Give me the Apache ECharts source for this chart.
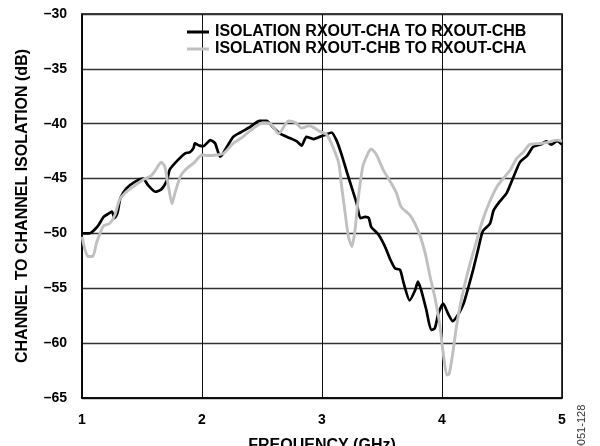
<!DOCTYPE html>
<html><head><meta charset="utf-8">
<script src="https://cdn.jsdelivr.net/npm/echarts@6/dist/echarts.min.js"></script>
<style>html,body{margin:0;padding:0;background:#fff}#c{width:600px;height:446px}</style>
</head><body><div id="c"></div>
<script>
const seriesNames = ['ISOLATION RXOUT-CHA TO RXOUT-CHB', 'ISOLATION RXOUT-CHB TO RXOUT-CHA'];
const xTicks = [1, 2, 3, 4, 5];
const yTicks = [-65, -60, -55, -50, -45, -40, -35, -30];

const freqA = [1.00,1.05,1.08,1.11,1.14,1.18,1.22,1.25,1.27,1.29,1.30,1.32,1.37,1.44,1.51,1.55,1.61,1.66,1.71,1.73,1.80,1.86,1.90,1.93,1.94,1.98,2.01,2.07,2.11,2.15,2.17,2.26,2.32,2.40,2.48,2.54,2.59,2.65,2.73,2.79,2.83,2.87,2.93,2.98,3.03,3.08,3.12,3.16,3.21,3.25,3.29,3.32,3.36,3.39,3.41,3.47,3.525,3.57,3.61,3.65,3.68,3.73,3.775,3.80,3.83,3.87,3.91,3.94,3.97,4.01,4.05,4.09,4.14,4.18,4.22,4.26,4.30,4.34,4.40,4.43,4.48,4.54,4.59,4.65,4.71,4.76,4.82,4.87,4.91,4.96,5.00];
const dbA = [-50.0,-50.0,-49.9,-49.6,-49.2,-48.5,-48.2,-48.0,-48.6,-48.3,-47.9,-46.8,-45.9,-45.3,-45.0,-45.6,-46.2,-46.0,-45.1,-44.2,-43.3,-42.7,-42.6,-42.2,-41.8,-42.0,-42.05,-41.5,-41.8,-43.0,-42.8,-41.2,-40.8,-40.3,-39.75,-39.75,-40.3,-40.9,-41.3,-41.6,-42.0,-41.2,-41.4,-41.2,-41.0,-40.8,-41.5,-42.7,-44.5,-45.9,-47.3,-48.6,-48.5,-48.6,-49.4,-50.1,-51.2,-52.4,-53.2,-53.3,-54.5,-56.1,-55.2,-54.4,-55.3,-57.0,-58.8,-58.65,-57.3,-56.4,-57.3,-58.0,-57.3,-56.4,-54.9,-53.3,-51.5,-49.8,-49.1,-47.9,-47.1,-46.3,-45.0,-43.5,-42.9,-42.1,-41.9,-41.6,-41.9,-41.6,-41.9];

const freqB = [1.00,1.025,1.05,1.09,1.12,1.15,1.18,1.23,1.275,1.31,1.36,1.43,1.51,1.58,1.62,1.66,1.69,1.72,1.75,1.775,1.82,1.87,1.93,2.00,2.05,2.12,2.18,2.26,2.34,2.43,2.51,2.57,2.64,2.72,2.78,2.83,2.89,2.94,2.98,3.04,3.09,3.14,3.16,3.19,3.22,3.25,3.275,3.30,3.34,3.39,3.41,3.455,3.51,3.57,3.62,3.66,3.73,3.775,3.82,3.86,3.90,3.94,3.98,4.01,4.04,4.06,4.09,4.12,4.16,4.22,4.275,4.33,4.39,4.46,4.51,4.57,4.62,4.68,4.73,4.82,4.88,4.96,5.00];
const dbB = [-50.3,-51.5,-52.1,-52.1,-50.9,-50.0,-49.3,-49.1,-48.3,-47.0,-46.3,-45.7,-45.1,-44.7,-44.1,-43.5,-43.9,-45.7,-47.3,-46.3,-44.8,-44.1,-43.6,-42.85,-42.9,-42.85,-42.7,-41.8,-41.2,-40.4,-39.9,-40.0,-40.9,-39.75,-39.9,-40.4,-40.2,-40.4,-40.7,-41.0,-42.1,-43.6,-45.4,-47.9,-50.3,-51.2,-49.7,-47.0,-43.9,-42.55,-42.3,-42.85,-44.2,-45.3,-46.3,-47.6,-48.3,-49.1,-50.3,-51.8,-53.9,-55.8,-58.2,-60.9,-62.9,-62.8,-60.9,-58.5,-56.1,-53.3,-51.2,-49.1,-47.3,-45.7,-45.0,-44.2,-43.2,-42.55,-41.9,-41.8,-41.7,-41.5,-41.6];

const FONT = "'Liberation Sans', Arial, sans-serif";
const chart = echarts.init(document.getElementById('c'), null, {renderer: 'canvas'});
chart.setOption({
  animation: false,
  backgroundColor: '#fff',
  grid: {left: 82, right: 38, top: 14, bottom: 48, show: true, borderColor: '#000', borderWidth: 1.5,
         containLabel: false, outerBoundsMode: 'none'},
  legend: {
    orient: 'vertical', left: 187, top: 24, padding: 0, itemWidth: 22, itemHeight: 14, itemGap: 1,
    icon: 'path://M0,0H22V3H0Z',
    data: seriesNames,
    textStyle: {fontFamily: FONT, fontWeight: 'bold', fontSize: 16, color: '#000', padding: [0,0,0,1]}
  },
  xAxis: {
    type: 'value', min: xTicks[0], max: xTicks[xTicks.length-1], interval: 1,
    name: 'FREQUENCY (GHz)', nameLocation: 'middle', nameGap: 40,
    nameTextStyle: {fontFamily: FONT, fontWeight: 'bold', fontSize: 16, color: '#000'},
    axisLine: {show: true, lineStyle: {color: '#000', width: 1.5}},
    axisTick: {show: false},
    axisLabel: {fontFamily: FONT, fontWeight: 'bold', fontSize: 14, color: '#000', margin: 15},
    splitLine: {show: true, lineStyle: {color: '#111', width: 1}}
  },
  yAxis: {
    type: 'value', min: yTicks[0], max: yTicks[yTicks.length-1], interval: 5,
    name: 'CHANNEL TO CHANNEL ISOLATION (dB)', nameLocation: 'middle', nameGap: 51, nameRotate: 90,
    nameTextStyle: {fontFamily: FONT, fontWeight: 'bold', fontSize: 16, color: '#000'},
    axisLine: {show: true, lineStyle: {color: '#000', width: 1.5}},
    axisTick: {show: false},
    axisLabel: {fontFamily: FONT, fontWeight: 'bold', fontSize: 14, color: '#000', margin: 15,
      formatter: v => String(v).replace('-', '\u2013')},
    splitLine: {show: true, lineStyle: {color: '#333', width: 1.3}}
  },
  series: [
    {name: seriesNames[0], type: 'line', showSymbol: false, smooth: 0.2,
     data: freqA.map((f, i) => [f, dbA[i]]),
     lineStyle: {color: '#000', width: 2.7}, itemStyle: {color: '#000'}, z: 3},
    {name: seriesNames[1], type: 'line', showSymbol: false, smooth: 0.2,
     data: freqB.map((f, i) => [f, dbB[i]]),
     lineStyle: {color: '#c0c0c0', width: 2.9}, itemStyle: {color: '#c0c0c0'}, z: 4}
  ],
  graphic: [{
    type: 'text', x: 582, y: 428, rotation: Math.PI / 2, origin: [0, 0],
    style: {text: '0051-128', fontFamily: FONT, fontSize: 11, fill: '#333', align: 'center', verticalAlign: 'middle'}
  }]
});
</script></body></html>
